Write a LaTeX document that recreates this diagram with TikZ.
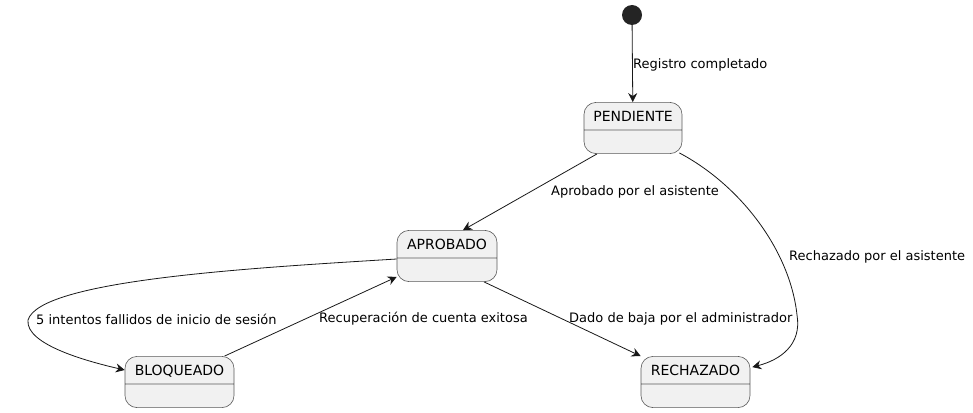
\documentclass[tikz,border=0pt]{standalone}
\usepackage{fontspec}
\setmainfont{DejaVu Sans}
\usetikzlibrary{arrows.meta,shapes.multipart}
\definecolor{statefill}{HTML}{F1F1F1}
\definecolor{stateline}{HTML}{5A5A5A}
\definecolor{edgeline}{HTML}{181818}
\begin{document}
\begin{tikzpicture}[x=1pt,y=-1pt,
 state/.style={rectangle split,rectangle split parts=2,draw=stateline,fill=statefill,line width=0.6pt,
  rounded corners=12pt,inner xsep=8pt,inner ysep=6.5pt,text height=12pt,text depth=2pt,
  rectangle split empty part height=10pt,rectangle split empty part depth=0pt,
  font=\fontsize{14}{16}\selectfont},
 edge/.style={draw=edgeline,line width=0.8pt,-{Stealth[length=9pt,width=9pt,inset=3pt]}},
 lbl/.style={anchor=west,inner sep=0pt,font=\fontsize{13}{15}\selectfont}]
 \useasboundingbox (0,0) rectangle (973,412);
 \node[circle,fill=edgeline!95,inner sep=0pt,minimum size=20pt] (start) at (632,15) {};
 \node[state,minimum width=98pt] (pend) at (633,128) {PENDIENTE\nodepart{two}};
 \node[state,minimum width=100pt] (apro) at (447,256) {APROBADO\nodepart{two}};
 \node[state,minimum width=109pt] (bloq) at (179.5,382) {BLOQUEADO\nodepart{two}};
 \node[state,minimum width=109pt] (rech) at (695.5,382) {RECHAZADO\nodepart{two}};
 \draw[edge] (start) -- (pend);
 \draw[edge] ([xshift=-36pt]pend.south) -- ([xshift=16pt]apro.north);
 \draw[edge] ([xshift=-3pt,yshift=1pt]pend.south east) .. controls (740,185) and (790,250) .. (797,315)
  .. controls (802,345) and (780,360) .. ([xshift=2pt,yshift=-11pt]rech.north east);
 \draw[edge] ([yshift=-3pt]apro.west) .. controls (250,268) and (40,280) .. (28,320)
  .. controls (25,345) and (90,362) .. ([yshift=12pt]bloq.west);
 \draw[edge] ([xshift=45pt]bloq.north) -- ([yshift=5pt]apro.south west);
 \draw[edge] ([xshift=37pt]apro.south) -- (rech.north west);
 \node[lbl] (lreg) at (633,65) {Registro completado};
 \node[lbl] (lapr) at (551,192) {Aprobado por el asistente};
 \node[lbl] (lrec) at (789,257) {Rechazado por el asistente};
 \node[lbl] (lint) at (36,319) {5 intentos fallidos de inicio de sesión};
 \node[lbl] (lcue) at (319,319) {Recuperación de cuenta exitosa};
 \node[lbl] (lbaj) at (569,319) {Dado de baja por el administrador};
\end{tikzpicture}
\end{document}
